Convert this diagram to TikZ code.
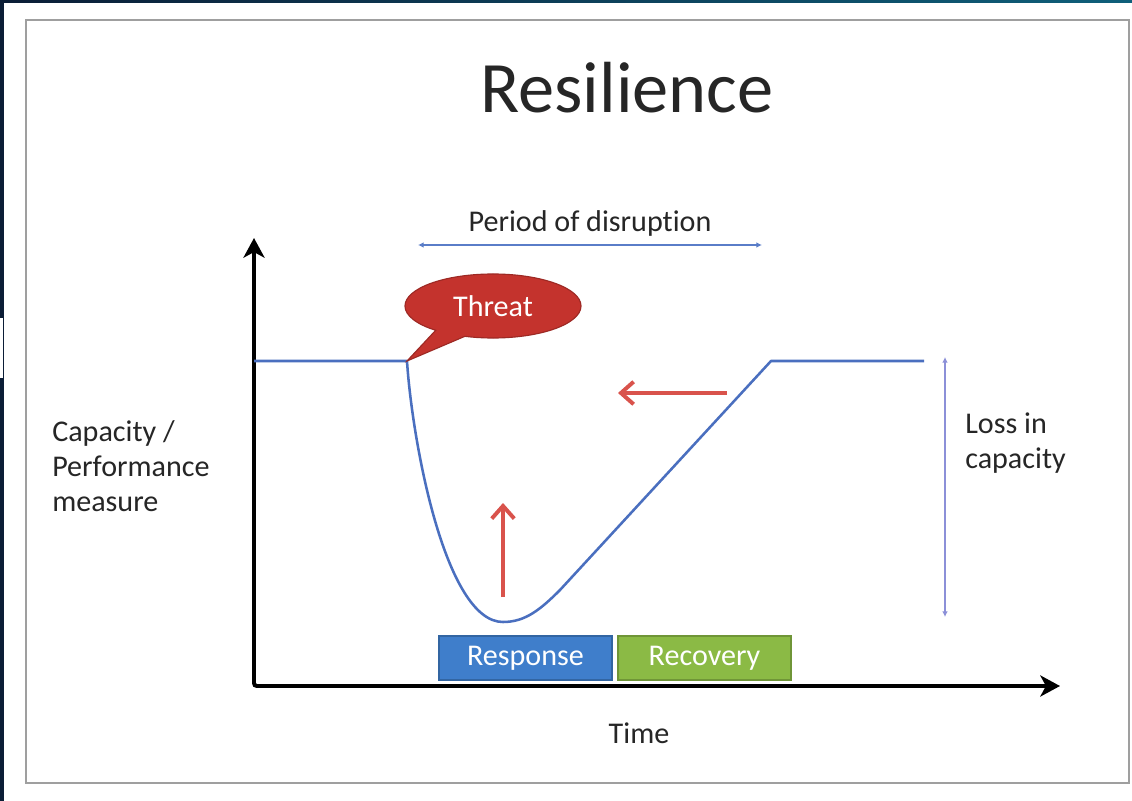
\documentclass[tikz,border=0pt]{standalone}
\usepackage{fontspec}
\setmainfont{Carlito}[Ligatures=NoCommon]
\usetikzlibrary{arrows.meta,shapes.callouts}

\definecolor{navy}{HTML}{0B1D36}
\definecolor{slideteal}{HTML}{0E5F7A}
\definecolor{curveblue}{HTML}{4A6FBF}
\definecolor{arrowred}{HTML}{D9534C}
\definecolor{threatred}{HTML}{C4332D}
\definecolor{respblue}{HTML}{3F7ECB}
\definecolor{recgreen}{HTML}{8BBA45}
\definecolor{spanblue}{HTML}{5A7DC8}
\definecolor{losslav}{HTML}{8C90D8}
\definecolor{textgray}{HTML}{262626}

\tikzset{
  label/.style={text=textgray, font=\fontsize{21.4}{24.8}\selectfont, inner sep=0pt},
  axis/.style={line width=2.8pt, rounded corners=2pt,
    {Stealth[length=14pt,width=15pt,inset=4pt]}-{Stealth[length=14pt,width=15pt,inset=4pt]}},
  curve/.style={curveblue, line width=1.8pt, line join=round},
  push/.style={arrowred, line width=2.8pt, -{Straight Barb[length=9pt,width=16pt]}},
  span/.style={spanblue, line width=0.9pt, {Latex[length=4pt,width=4pt]}-{Latex[length=4pt,width=4pt]}},
  loss/.style={losslav, line width=1.3pt, {Latex[length=4pt,width=4pt]}-{Latex[length=4pt,width=4pt]}},
  phase/.style={label, text=white, minimum width=4.325cm, minimum height=1.1cm, line width=0.8pt}
}

\begin{document}
\begin{tikzpicture}[x=0.025cm, y=-0.025cm]
  \useasboundingbox (0,0) rectangle (1132,801);
  % slide background and frame
  \fill[white] (0,0) rectangle (1132,801);
  \fill[left color=navy, right color=slideteal] (0,0) rectangle (1132,3);
  \fill[navy] (0,0) rectangle (4,801);
  \fill[white] (0,318) rectangle (3,378);
  \draw[gray!75, line width=2pt] (26,20) rectangle (1129,783);

  \node[label, font=\fontsize{51.5}{60}\selectfont] (title) at (627,88) {Resilience};

  % axes
  \coordinate (origin) at (254,686);
  \coordinate (ytip) at (254,238);
  \coordinate (xtip) at (1060,686);
  \draw[axis] (ytip) -- (origin) -- (xtip);
  \node[label] (timelabel) at (639,733) {Time};
  \node[label, align=left, anchor=west] (ylabel) at (52,466) {Capacity /\\Performance\\measure};

  % performance curve
  \coordinate (drop) at (407,361);
  \coordinate (trough) at (503,622);
  \coordinate (climb) at (560,590);
  \coordinate (regain) at (771,361);
  \coordinate (steady) at (924,361);
  \draw[curve] (origin |- drop) -- (drop)
    .. controls (412,440) and (445,622) .. (trough)
    .. controls (525,622) and (540,610) .. (climb)
    -- (regain) -- (steady);

  % period of disruption
  \coordinate (pstart) at (418,245);
  \coordinate (pend) at (762,245);
  \draw[span] (pstart) -- (pend);
  \node[label] (period) at (590,223) {Period of disruption};

  % threat callout
  \node[ellipse callout, fill=threatred, draw=threatred!80!black, line width=0.8pt,
        minimum width=4.4cm, minimum height=1.6cm, callout pointer arc=22,
        callout absolute pointer={(drop)}, label, text=white] (threat) at (493,306) {Threat};

  % loss in capacity
  \coordinate (ltop) at (945,357);
  \coordinate (lbot) at (945,617);
  \draw[loss] (ltop) -- (lbot);
  \node[label, align=left, anchor=west] (losslabel) at (965,443) {Loss in\\capacity};

  % red arrows
  \coordinate (rtail) at (727,393);
  \coordinate (rhead) at (618,393);
  \draw[push] (rtail) -- (rhead);
  \coordinate (utail) at (503,597);
  \coordinate (uhead) at (503,503);
  \draw[push] (utail) -- (uhead);

  % phases
  \node[phase, fill=respblue, draw=respblue!80!black] (response) at (525.5,658) {Response};
  \node[phase, fill=recgreen, draw=recgreen!80!black] (recovery) at (704.5,658) {Recovery};
\end{tikzpicture}
\end{document}
